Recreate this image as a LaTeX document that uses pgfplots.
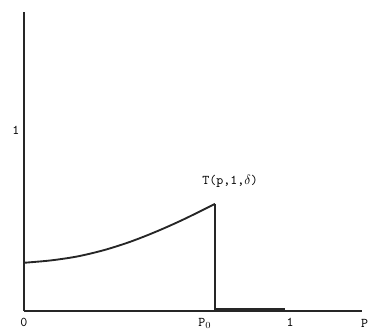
\documentclass[border=0pt]{standalone}
\usepackage{fontspec}
\usepackage{pgfplots}
\pgfplotsset{compat=1.18}
\begin{document}
\begin{tikzpicture}
\begin{axis}[
  scale only axis,
  width=253.5pt, height=224.25pt,
  xmin=0, xmax=1.27, ymin=0, ymax=1.66,
  axis lines=left,
  axis line style={-, line width=1.3pt, black!85},
  major tick length=0pt,
  xtick={0,0.68,1},
  xticklabels={0,P$_0$,1},
  ytick={1},
  yticklabels={1},
  /pgf/number format/assume math mode=true,
  tick label style={font=\normalsize\ttfamily},
  xticklabel style={yshift=-2pt},
  clip=false,
]
\addplot[line width=1.4pt, black!85, smooth] coordinates {
  (0,0.267) (0.1,0.280) (0.2,0.302) (0.3,0.337) (0.4,0.384) (0.5,0.442) (0.6,0.508) (0.718,0.594)
};
\addplot[line width=1.1pt, black!85] coordinates {(0.718,0.594) (0.718,0)};
\addplot[line width=1.6pt, black!85] coordinates {(0.718,0.008) (0.98,0.008)};
\node[font=\normalsize\ttfamily] at (axis cs:0.775,0.72) {T(p,1,$\delta$)};
\node[font=\normalsize\ttfamily, anchor=north, inner sep=0pt] at (axis cs:1.28,0) [yshift=-6.5pt] {P};
\path[use as bounding box] (rel axis cs:-0.071,-0.080) rectangle (rel axis cs:1.027,1.040);
\end{axis}
\end{tikzpicture}
\end{document}
